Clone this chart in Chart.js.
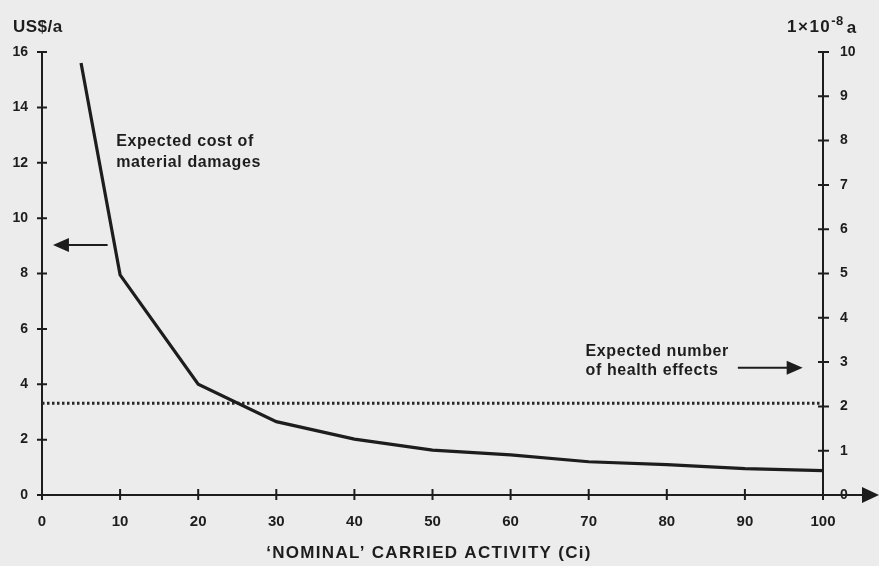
<!DOCTYPE html>
<html>
<head>
<meta charset="utf-8">
<script src="https://cdn.jsdelivr.net/npm/chart.js@4/dist/chart.umd.min.js"></script>
<style>
  html, body { margin: 0; padding: 0; background: #ececec; }
  canvas { display: block; }
</style>
</head>
<body>
<canvas id="myChart" width="879" height="566"></canvas>
<script>
// values
const activity = [5, 10, 20, 30, 40, 50, 60, 70, 80, 90, 100];
const materialCost = [15.6, 7.95, 4.0, 2.65, 2.02, 1.62, 1.45, 1.2, 1.1, 0.95, 0.88];
const healthActivity = [0, 100];
const healthEffects = [2.07, 2.07];

const xTicks = [0, 10, 20, 30, 40, 50, 60, 70, 80, 90, 100];
const leftTicks = [0, 2, 4, 6, 8, 10, 12, 14, 16];
const rightTicks = [0, 1, 2, 3, 4, 5, 6, 7, 8, 9, 10];

const INK = '#1d1d1d';
const BG = '#ececec';
const narrow = "'Liberation Sans Narrow', 'Liberation Sans', Arial, sans-serif";
const sans = "'Liberation Sans', Arial, sans-serif";

function arrowHead(ctx, x, y, dir, len, half) {
  ctx.beginPath();
  ctx.moveTo(x, y);
  ctx.lineTo(x - dir * len, y - half);
  ctx.lineTo(x - dir * len, y + half);
  ctx.closePath();
  ctx.fill();
}

const decorations = {
  id: 'decorations',
  beforeDraw(chart) {
    const { ctx, chartArea } = chart;
    ctx.save();
    ctx.fillStyle = BG;
    ctx.fillRect(0, 0, chart.width, chart.height);
    // x axis runs on past the right axis into an arrow
    ctx.strokeStyle = INK;
    ctx.fillStyle = INK;
    ctx.lineWidth = 2;
    ctx.beginPath();
    ctx.moveTo(chartArea.right, chartArea.bottom);
    ctx.lineTo(chartArea.right + 42, chartArea.bottom);
    ctx.stroke();
    arrowHead(ctx, chartArea.right + 56, chartArea.bottom, 1, 17, 8);
    ctx.restore();
  },
  afterDraw(chart) {
    const { ctx, chartArea, scales } = chart;
    const x = scales.x, y = scales.y, y1 = scales.y1;
    ctx.save();
    ctx.strokeStyle = INK;
    ctx.fillStyle = INK;
    ctx.lineWidth = 2;

    // crossing tick marks
    ctx.beginPath();
    xTicks.forEach(v => {
      const px = x.getPixelForValue(v);
      ctx.moveTo(px, chartArea.bottom - 6);
      ctx.lineTo(px, chartArea.bottom + 5);
    });
    leftTicks.forEach(v => {
      const py = y.getPixelForValue(v);
      ctx.moveTo(chartArea.left - 5, py);
      ctx.lineTo(chartArea.left + 5, py);
    });
    rightTicks.forEach(v => {
      const py = y1.getPixelForValue(v);
      ctx.moveTo(chartArea.right - 5, py);
      ctx.lineTo(chartArea.right + 6, py);
    });
    ctx.stroke();

    // axis units
    ctx.textBaseline = 'alphabetic';
    ctx.textAlign = 'left';
    ctx.letterSpacing = '0.5px';
    ctx.font = 'bold 17px ' + sans;
    ctx.fillText('US$/a', 13, 32);
    ctx.letterSpacing = '1.5px';
    let tx = 787;
    ctx.fillText('1×10', tx, 32);
    tx += ctx.measureText('1×10').width;
    ctx.letterSpacing = '0.5px';
    ctx.font = 'bold 13px ' + sans;
    ctx.fillText('-8', tx, 25);
    tx += ctx.measureText('-8').width + 3;
    ctx.font = 'bold 17px ' + sans;
    ctx.fillText('a', tx, 33);

    // annotations
    ctx.font = 'bold 16px ' + sans;
    ctx.letterSpacing = '0.6px';
    ctx.textBaseline = 'middle';
    ctx.fillText('Expected cost of', x.getPixelForValue(9.5), y.getPixelForValue(12.75));
    ctx.fillText('material damages', x.getPixelForValue(9.5), y.getPixelForValue(12.0));
    ctx.fillText('Expected number', x.getPixelForValue(69.6), y1.getPixelForValue(3.23));
    ctx.fillText('of health effects', x.getPixelForValue(69.6), y1.getPixelForValue(2.8));

    // arrow to the left axis
    const ay = y.getPixelForValue(9.03);
    ctx.beginPath();
    ctx.moveTo(x.getPixelForValue(8.4), ay);
    ctx.lineTo(x.getPixelForValue(2.5), ay);
    ctx.stroke();
    arrowHead(ctx, x.getPixelForValue(1.4), ay, -1, 16, 7);

    // arrow to the right axis
    const by = y1.getPixelForValue(2.87);
    ctx.beginPath();
    ctx.moveTo(x.getPixelForValue(89.1), by);
    ctx.lineTo(x.getPixelForValue(95.5), by);
    ctx.stroke();
    arrowHead(ctx, x.getPixelForValue(97.4), by, 1, 16, 7);

    // x axis title
    ctx.font = 'bold 17px ' + sans;
    ctx.letterSpacing = '1.3px';
    ctx.textAlign = 'center';
    ctx.textBaseline = 'alphabetic';
    ctx.fillText('\u2018NOMINAL\u2019 CARRIED ACTIVITY (Ci)', 429, 558);
    ctx.restore();
  }
};

new Chart(document.getElementById('myChart'), {
  type: 'line',
  data: {
    datasets: [
      {
        label: 'Expected cost of material damages',
        data: activity.map((a, i) => ({ x: a, y: materialCost[i] })),
        borderColor: INK,
        borderWidth: 3.2,
        pointRadius: 0,
        tension: 0,
        yAxisID: 'y',
      },
      {
        label: 'Expected number of health effects',
        data: healthActivity.map((a, i) => ({ x: a, y: healthEffects[i] })),
        borderColor: '#262626',
        borderWidth: 3,
        borderDash: [2.5, 2.5],
        pointRadius: 0,
        yAxisID: 'y1',
      },
    ],
  },
  options: {
    responsive: false,
    animation: false,
    devicePixelRatio: 1,
    layout: { padding: { top: 52, left: 0, right: 0, bottom: 0 } },
    plugins: { legend: { display: false }, tooltip: { enabled: false } },
    scales: {
      x: {
        type: 'linear',
        min: 0,
        max: 100,
        afterFit: s => { s.height = 71; },
        afterBuildTicks: s => { s.ticks = xTicks.map(v => ({ value: v })); },
        grid: { display: false, drawTicks: false },
        border: { display: true, color: INK, width: 2 },
        ticks: { color: INK, padding: 18, maxRotation: 0, font: { family: narrow, size: 15, weight: 'bold' } },
      },
      y: {
        type: 'linear',
        position: 'left',
        min: 0,
        max: 16,
        afterFit: s => { s.width = 42; },
        afterBuildTicks: s => { s.ticks = leftTicks.map(v => ({ value: v })); },
        grid: { display: false, drawTicks: false },
        border: { display: true, color: INK, width: 2 },
        ticks: { color: INK, padding: 14, font: { family: sans, size: 14, weight: 'bold' } },
      },
      y1: {
        type: 'linear',
        position: 'right',
        min: 0,
        max: 10,
        afterFit: s => { s.width = 56; },
        afterBuildTicks: s => { s.ticks = rightTicks.map(v => ({ value: v })); },
        grid: { display: false, drawTicks: false },
        border: { display: true, color: INK, width: 2 },
        ticks: { color: INK, padding: 17, font: { family: sans, size: 14, weight: 'bold' } },
      },
    },
  },
  plugins: [decorations],
});
</script>
</body>
</html>
